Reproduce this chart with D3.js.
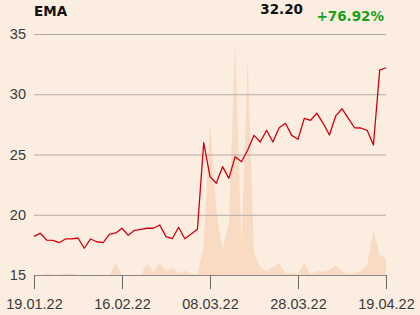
<!DOCTYPE html>
<html>
<head>
<meta charset="utf-8">
<script src="https://cdn.jsdelivr.net/npm/d3@7"></script>
<style>
  html, body { margin: 0; padding: 0; background: #fcede1; }
  svg { display: block; font-family: "DejaVu Sans", sans-serif; }
</style>
</head>
<body>
<div class="price-chart"></div>
<script>
// closing prices, one per trading day
var closes = [18.20, 18.46, 17.90, 17.88, 17.68, 17.99, 17.99, 18.07, 17.22, 17.99,
  17.76, 17.68, 18.38, 18.49, 18.88, 18.29, 18.71, 18.79, 18.88, 18.88,
  19.15, 18.18, 18.01, 18.96, 18.01, 18.40, 18.79, 25.98, 23.16, 22.61,
  23.99, 23.02, 24.82, 24.40, 25.37, 26.59, 26.04, 27.01, 26.04, 27.22,
  27.59, 26.59, 26.26, 28.00, 27.84, 28.42, 27.59, 26.62, 28.20, 28.80,
  28.00, 27.22, 27.20, 27.01, 25.79, 32.01, 32.20];

// traded volume (thousands)
var volumes = [0, 0, 1.7, 0.5, 0, 2, 1.5, 0, 0, 0,
  0, 0.5, 0, 12, 0, 0, 0, 0, 12, 3,
  12.5, 4, 7, 2, 4.5, 1, 0, 30, 153, 65,
  25, 52, 232, 32, 216, 22, 8, 4, 8, 12,
  1.7, 2, 1, 12, 1, 4, 3.3, 5, 10, 3.3,
  0.7, 1.7, 4.3, 10, 45, 20, 16.7];

var dateTicks = [0, 14, 28, 42, 56];
var dateLabels = ["19.01.22", "16.02.22", "08.03.22", "28.03.22", "19.04.22"];
var priceTicks = [15, 20, 25, 30, 35];
var title = "EMA";

var width = 420, height = 315;
var plotLeft = 34, plotRight = 386, plotTop = 34, plotBottom = 275;

var svg = d3.select(".price-chart").append("svg")
    .attr("width", width)
    .attr("height", height);

var x = d3.scaleLinear().domain([0, closes.length - 1]).range([plotLeft, plotRight]);
var y = d3.scaleLinear().domain([15, 35]).range([plotBottom, plotTop]);
var yVol = d3.scaleLinear().domain([0, 241]).range([plotBottom, plotTop]);

// volume in the background
var area = d3.area()
    .x(function(d, i) { return x(i); })
    .y0(plotBottom)
    .y1(function(d) { return yVol(d); });

svg.append("path")
    .datum(volumes)
    .attr("d", area)
    .attr("fill", "#f9dbc4");

// horizontal grid + labels
var yAxis = svg.append("g")
    .attr("transform", "translate(" + plotLeft + ",0)")
    .call(d3.axisLeft(y).tickValues(priceTicks).tickSize(-(plotRight - plotLeft)).tickPadding(8));
yAxis.select(".domain").remove();
yAxis.selectAll(".tick line").attr("stroke", "#b0aaa5");
yAxis.selectAll(".tick text")
    .attr("fill", "#3a3a3a")
    .style("font-size", "14.5px");

// bottom axis with dates
var xAxis = svg.append("g")
    .attr("transform", "translate(0," + plotBottom + ")")
    .call(d3.axisBottom(x).tickValues(dateTicks).tickSize(14).tickSizeOuter(0).tickPadding(10)
        .tickFormat(function(d, i) { return dateLabels[i]; }));
xAxis.select(".domain").attr("stroke", "#8a8684");
xAxis.selectAll(".tick line").attr("stroke", "#6e6a68");
xAxis.selectAll(".tick text")
    .attr("fill", "#3a3a3a")
    .style("font-size", "14.5px");

// price line
var line = d3.line()
    .x(function(d, i) { return x(i); })
    .y(function(d) { return y(d); });

svg.append("path")
    .datum(closes)
    .attr("d", line)
    .attr("fill", "none")
    .attr("stroke", "#d2000e")
    .attr("stroke-width", 1.3)
    .attr("stroke-linejoin", "round");

// header
var last = closes[closes.length - 1];
var change = (last / closes[0] - 1) * 100;

svg.append("text")
    .attr("x", plotLeft)
    .attr("y", 16)
    .attr("font-weight", "bold")
    .style("font-size", "13.5px")
    .attr("fill", "#111")
    .text(title);

svg.append("text")
    .attr("x", 303)
    .attr("y", 14)
    .attr("text-anchor", "end")
    .attr("font-weight", "bold")
    .style("font-size", "13.5px")
    .attr("fill", "#111")
    .text(last.toFixed(2));

svg.append("text")
    .attr("x", 384)
    .attr("y", 21)
    .attr("text-anchor", "end")
    .attr("font-weight", "bold")
    .style("font-size", "13.5px")
    .attr("fill", "#19a019")
    .text((change >= 0 ? "+" : "") + change.toFixed(2) + "%");
</script>
</body>
</html>
